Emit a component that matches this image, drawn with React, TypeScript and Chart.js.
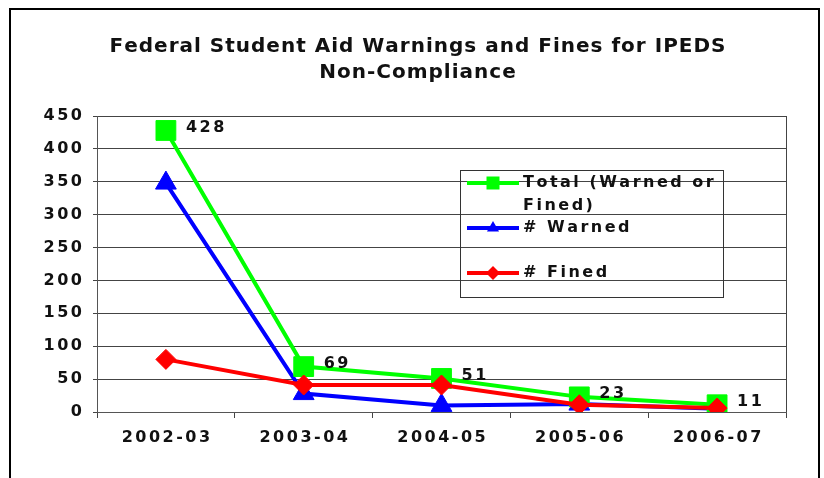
import React, { useEffect, useRef } from 'react';
import { Chart, registerables } from 'chart.js';

Chart.register(...registerables);

const categories = ['2002-03', '2003-04', '2004-05', '2005-06', '2006-07'];
const totalValues = [428, 69, 51, 23, 11];
const warnedValues = [348, 28, 10, 12, 5];
const finedValues = [80, 41, 41, 11, 6];
const titleLines = ['Federal Student Aid Warnings and Fines for IPEDS', 'Non-Compliance'];
const seriesNames = [['Total (Warned or', 'Fined)'], ['# Warned'], ['# Fined']];
const seriesColors = ['#00ff00', '#0000ff', '#ff0000'];
const seriesStyles = ['rect', 'triangle', 'rectRot'];
const yMin = 0;
const yMax = 450;
const yStep = 50;

const FONT = '"DejaVu Sans", sans-serif';
const SP = 2.5;
const FS = 16;

function textWidth(ctx: CanvasRenderingContext2D, text: string, spacing: number) {
  let w = 0;
  for (const ch of text) w += ctx.measureText(ch).width + spacing;
  return w - spacing;
}

function drawSpaced(
  ctx: CanvasRenderingContext2D,
  text: string,
  x: number,
  y: number,
  align: 'left' | 'right' | 'center',
  spacing: number,
) {
  const w = textWidth(ctx, text, spacing);
  let cx = align === 'left' ? x : align === 'right' ? x - w : x - w / 2;
  ctx.textAlign = 'left';
  for (const ch of text) {
    ctx.fillText(ch, cx, y);
    cx += ctx.measureText(ch).width + spacing;
  }
}

function drawMarker(ctx: CanvasRenderingContext2D, style: string, x: number, y: number, r: number, color: string) {
  ctx.fillStyle = color;
  ctx.beginPath();
  if (style === 'rect') {
    ctx.rect(x - r, y - r, 2 * r, 2 * r);
  } else if (style === 'triangle') {
    ctx.moveTo(x, y - r);
    ctx.lineTo(x + r * 0.866, y + r / 2);
    ctx.lineTo(x - r * 0.866, y + r / 2);
    ctx.closePath();
  } else {
    ctx.moveTo(x - r, y);
    ctx.lineTo(x, y - r);
    ctx.lineTo(x + r, y);
    ctx.lineTo(x, y + r);
    ctx.closePath();
  }
  ctx.fill();
}

const customPlugin = {
  id: 'custom',
  afterDatasetsDraw(chart: any) {
    const ctx = chart.ctx as CanvasRenderingContext2D;
    const meta = chart.getDatasetMeta(0);
    ctx.save();
    ctx.font = `bold ${FS}px ${FONT}`;
    ctx.fillStyle = '#111';
    ctx.textBaseline = 'middle';
    meta.data.forEach((pt: any, i: number) => {
      drawSpaced(ctx, String(totalValues[i]), pt.x + 20, pt.y - 3, 'left', SP);
    });
    ctx.restore();
  },
  afterDraw(chart: any) {
    const ctx = chart.ctx as CanvasRenderingContext2D;
    const area = chart.chartArea;
    const yScale = chart.scales.y;
    const xScale = chart.scales.x;
    ctx.save();
    // right border of plot area
    ctx.strokeStyle = '#444';
    ctx.lineWidth = 1;
    ctx.beginPath();
    ctx.moveTo(Math.round(area.right) + 0.5, area.top);
    ctx.lineTo(Math.round(area.right) + 0.5, area.bottom);
    ctx.stroke();

    ctx.font = `bold ${FS}px ${FONT}`;
    ctx.fillStyle = '#111';
    ctx.textBaseline = 'middle';
    // y tick labels
    yScale.ticks.forEach((t: any) => {
      drawSpaced(ctx, String(t.value), area.left - 15, yScale.getPixelForValue(t.value), 'right', SP);
    });
    // x tick labels
    categories.forEach((c, i) => {
      drawSpaced(ctx, c, xScale.getPixelForValue(i), area.bottom + 26, 'center', SP);
    });

    // title
    ctx.font = `bold 20px ${FONT}`;
    const cx = (area.left + area.right) / 2 - 24;
    titleLines.forEach((line, i) => {
      drawSpaced(ctx, line, cx, 47 + i * 26, 'center', 1);
    });

    // legend
    const lx = area.left + 363;
    const ly = area.top + 54;
    const lw = 263;
    const lh = 127;
    ctx.strokeStyle = '#333';
    ctx.lineWidth = 1;
    ctx.strokeRect(Math.round(lx) + 0.5, Math.round(ly) + 0.5, lw, lh);
    ctx.font = `bold ${FS}px ${FONT}`;
    seriesNames.forEach((lines, i) => {
      const y = ly + 13 + i * 45;
      ctx.strokeStyle = seriesColors[i];
      ctx.lineWidth = 4;
      ctx.beginPath();
      ctx.moveTo(lx + 7, y);
      ctx.lineTo(lx + 59, y);
      ctx.stroke();
      drawMarker(ctx, seriesStyles[i], lx + 33, y, i === 0 ? 6.5 : 7, seriesColors[i]);
      ctx.fillStyle = '#111';
      lines.forEach((t, j) => drawSpaced(ctx, t, lx + 63, y + j * 23, 'left', SP));
    });
    ctx.restore();
  },
};

export default function App() {
  const ref = useRef<HTMLCanvasElement | null>(null);
  useEffect(() => {
    document.body.style.overflow = 'hidden';
    const canvas = ref.current;
    if (!canvas) return;
    const mkSet = (label: string, data: number[], i: number, radius: number, order: number) => ({
      label,
      data,
      borderColor: seriesColors[i],
      backgroundColor: seriesColors[i],
      pointBackgroundColor: seriesColors[i],
      pointBorderColor: seriesColors[i],
      pointBorderWidth: 1,
      pointStyle: seriesStyles[i],
      pointRadius: radius,
      borderWidth: 4,
      tension: 0,
      order,
    });
    const chart = new Chart(canvas, {
      type: 'line',
      data: {
        labels: categories,
        datasets: [
          mkSet('Total (Warned or Fined)', totalValues, 0, 14, 1),
          mkSet('# Warned', warnedValues, 1, 12, 2),
          mkSet('# Fined', finedValues, 2, 10, 0),
        ],
      },
      options: {
        responsive: false,
        animation: false,
        devicePixelRatio: 1,
        layout: { padding: { top: 116, left: 20, right: 38, bottom: 0 } },
        plugins: {
          legend: { display: false },
          title: { display: false },
          tooltip: { enabled: false },
        },
        scales: {
          x: {
            type: 'category',
            offset: true,
            afterFit: (s: any) => { s.height = 66; },
            grid: {
              offset: true,
              drawOnChartArea: true,
              color: (c: any) => (c.type === 'scale' ? '#444' : 'rgba(0,0,0,0)'),
              tickColor: '#444',
              tickLength: 6,
              lineWidth: 1,
            },
            border: { display: true, color: '#555', width: 1 },
            ticks: { display: false },
          },
          y: {
            min: yMin,
            max: yMax,
            afterFit: (s: any) => { s.width = 77; },
            grid: { color: '#444', tickColor: '#444', tickLength: 4, lineWidth: 1 },
            border: { display: true, color: '#555', width: 1 },
            ticks: {
              display: false,
              stepSize: yStep,
            },
          },
        },
      },
      plugins: [customPlugin],
    } as any);
    return () => chart.destroy();
  }, []);
  return (
    <div>
      <div
        style={{
          position: 'absolute',
          left: 9,
          top: 8,
          width: 811,
          height: 470,
          boxSizing: 'border-box',
          borderTop: '2px solid #000',
          borderLeft: '2px solid #000',
          borderRight: '2px solid #000',
        }}
      />
      <canvas
        ref={ref}
        width={824}
        height={478}
        style={{ position: 'absolute', left: 0, top: 0, width: 824, height: 478 }}
      />
    </div>
  );
}
